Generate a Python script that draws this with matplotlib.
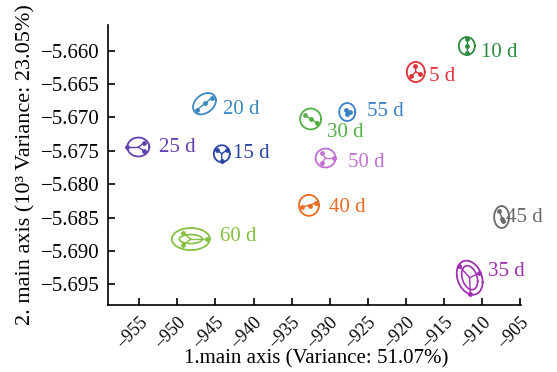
import numpy as np
import matplotlib
matplotlib.use("Agg")
import matplotlib.pyplot as plt
from matplotlib.ticker import FuncFormatter

plt.rcParams['font.family'] = ['Liberation Serif', 'DejaVu Serif']

# ---------------- data ----------------
groups = ['5 d', '10 d', '15 d', '20 d', '25 d', '30 d',
          '35 d', '40 d', '45 d', '50 d', '55 d', '60 d']

# three samples per group (axis 1, axis 2)
pts_x = [
    [-918.75, -919.28, -918.10],   # 5 d
    [-912.01, -912.01, -912.01],   # 10 d
    [-944.82, -943.51, -944.17],   # 15 d
    [-947.44, -945.48, -946.39],   # 20 d
    [-956.61, -954.38, -954.38],   # 25 d
    [-933.29, -931.72, -932.51],   # 30 d
    [-912.99, -910.37, -911.55],   # 35 d
    [-933.69, -931.85, -932.64],   # 40 d
    [-907.75, -907.23, -907.36],   # 45 d
    [-931.07, -931.07, -929.50],   # 50 d
    [-927.92, -927.40, -927.79],   # 55 d
    [-949.28, -949.28, -946.13],   # 60 d
]
pts_y = [
    [-5.66229, -5.66379, -5.66349],
    [-5.65825, -5.65930, -5.66034],
    [-5.67488, -5.67488, -5.67653],
    [-5.66889, -5.66709, -5.66784],
    [-5.67443, -5.67383, -5.67503],
    [-5.66963, -5.67083, -5.67023],
    [-5.69226, -5.69331, -5.69645],
    [-5.68342, -5.68282, -5.68327],
    [-5.68402, -5.68552, -5.68522],
    [-5.67533, -5.67683, -5.67608],
    [-5.66889, -5.66919, -5.66949],
    [-5.68732, -5.68912, -5.68822],
]

# confidence ellipses: semi-axis along axis 1, along axis 2, correlation
ell_sx = [1.18, 1.05, 1.05, 1.50, 1.44, 1.38, 1.70, 1.31, 0.98, 1.31, 1.05, 2.49]
ell_sy = [0.00150, 0.00135, 0.00127, 0.00160, 0.00142, 0.00157,
          0.00255, 0.00157, 0.00165, 0.00142, 0.00135, 0.00165]
ell_rho = [0, 0, 0, 0.32, 0, 0, -0.25, 0, 0, 0, 0, 0]

# inner ellipses (only some groups)
inner_sx = [np.nan] * 6 + [1.05] + [np.nan] * 4 + [1.51]
inner_sy = [np.nan] * 6 + [0.0018] + [np.nan] * 4 + [0.00067]
inner_rho = [0] * 6 + [-0.3] + [0] * 4 + [0]

colors = ['#e0303a', '#2e8b3e', '#2a44a8', '#3a88c0', '#6040b0', '#52b044',
          '#a030b0', '#e86a20', '#6a6a6a', '#c070d0', '#3a80c8', '#84c040']

# label offsets (points)
lab_dx = [9.5, 10.5, 8, 13, 15, 11.5, 13.5, 14.5, 3.5, 16, 14.5, 21]
lab_dy = [-3, -4.5, 0, -4.5, 0, -9.5, 4.5, -1.5, 0, -3.5, 0.5, 1.5]

xticks = [-955, -950, -945, -940, -935, -930, -925, -920, -915, -910, -905]
yticks = [-5.660, -5.665, -5.670, -5.675, -5.680, -5.685, -5.690, -5.695]

# ---------------- plot ----------------
fig = plt.figure(figsize=(5.57, 3.72), dpi=100)
ax = fig.add_axes([108 / 557, 1 - 305 / 372, (521 - 108) / 557, (305 - 25) / 372])

t = np.linspace(0, 2 * np.pi, 200)

def ellipse(cx, cy, sx, sy, rho):
    ex = cx + sx * np.cos(t)
    ey = cy + sy * (rho * np.cos(t) + np.sqrt(1 - rho ** 2) * np.sin(t))
    return ex, ey

for i, g in enumerate(groups):
    c = colors[i]
    xs = np.array(pts_x[i]); ys = np.array(pts_y[i])
    cx, cy = xs.mean(), ys.mean()
    ex, ey = ellipse(cx, cy, ell_sx[i], ell_sy[i], ell_rho[i])
    ax.plot(ex, ey, color=c, lw=1.3)
    if not np.isnan(inner_sx[i]):
        ix, iy = ellipse(cx, cy, inner_sx[i], inner_sy[i], inner_rho[i])
        ax.plot(ix, iy, color=c, lw=1.2)
    for px, py in zip(xs, ys):
        ax.plot([cx, px], [cy, py], color=c, lw=1.0)
    ax.scatter(xs, ys, s=6, color=c, zorder=3)
    ax.annotate(g, (cx, cy), xytext=(lab_dx[i], lab_dy[i]), textcoords='offset points',
                ha='left', va='center', color=c, fontsize=15)

ax.set_xlim(-959.1, -904.9)
ax.set_ylim(-5.6981, -5.65615)
ax.set_xticks(xticks)
ax.set_yticks(yticks)
ax.yaxis.set_major_formatter(FuncFormatter(lambda v, p: f'{v:.3f}'.replace('-', '\u2212')))
ax.xaxis.set_major_formatter(FuncFormatter(lambda v, p: f'{v:.0f}'.replace('-', '\u2013')))

for s in ['top', 'right']:
    ax.spines[s].set_visible(False)
for s in ['left', 'bottom']:
    ax.spines[s].set_linewidth(1.2)

ax.tick_params(direction='in', length=5, width=1.2)
ax.tick_params(axis='y', labelsize=15, pad=6)
ax.tick_params(axis='x', labelsize=13, pad=7)
for lab in ax.get_xticklabels():
    lab.set_rotation(45)
    lab.set_ha('right')
    lab.set_va('top')
    lab.set_rotation_mode('anchor')

ax.set_xlabel('1.main axis (Variance: 51.07%)', fontsize=15, va='top')
ax.xaxis.set_label_coords(0.505, -0.158)
ax.set_ylabel('2. main axis (10³ Variance: 23.05%)', fontsize=16, labelpad=4)

fig.savefig('out.png', dpi=100)
